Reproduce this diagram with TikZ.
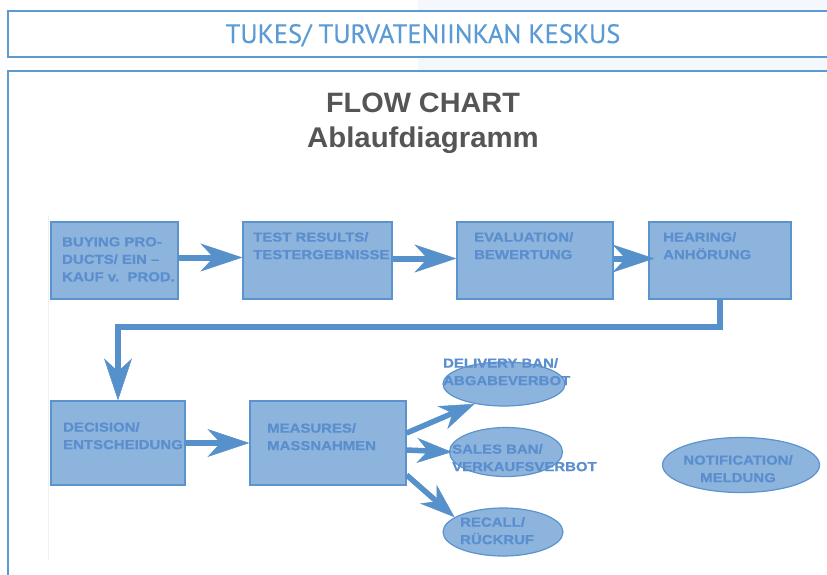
\documentclass[tikz,border=0pt]{standalone}
\usepackage{fontspec}
\setmainfont{Liberation Sans}
\newfontfamily\boxfont[FakeStretch=1.15,FakeBold=0.6]{Liberation Sans}
\newfontfamily\headfont[FakeBold=0.3]{PT Sans}
\newfontfamily\titlefont[FakeStretch=1.03]{Liberation Sans}
\usetikzlibrary{arrows.meta,shapes.geometric}
\definecolor{frameblue}{HTML}{5B9BD5}
\definecolor{tintbg}{HTML}{F4F7FB}
\definecolor{faintline}{HTML}{ECF1F7}
\definecolor{titlegray}{HTML}{555555}
\definecolor{boxfill}{HTML}{8DB4DC}
\definecolor{boxline}{HTML}{5B93CC}
\definecolor{boxtxt}{HTML}{5A8ECE}
\definecolor{arrblue}{HTML}{5691CB}
\tikzset{
  frame/.style={draw=frameblue,line width=1.5pt,fill=white},
  stepbox/.style={rectangle,draw=boxline,fill=boxfill,line width=1.2pt,inner sep=0pt},
  oval/.style={ellipse,draw=boxline,fill=boxfill,line width=1.2pt,inner sep=0pt},
  boxtext/.style={font=\boxfont\bfseries\fontsize{13}{17.5}\selectfont,text=boxtxt,align=left,inner sep=0pt,anchor=north west},
  ovaltext/.style={boxtext},
  bigarr/.style={draw=arrblue,line width=6pt,-{Stealth[length=42pt,width=28pt,inset=13pt,line width=0.5pt]}},
  midarr/.style={draw=arrblue,line width=5.5pt,-{Stealth[length=35pt,width=25pt,inset=11pt,line width=0.5pt]}},
}
\begin{document}
\begin{tikzpicture}[x=1pt,y=-1pt]
\clip (0,0) rectangle (827,574);
\fill[white] (0,0) rectangle (827,574);
\fill[tintbg] (418,0) rectangle (827,71);
% frames
\draw[frame] (8,11) rectangle (840,57);
\draw[frame] (8,71) rectangle (840,600);
\draw[faintline,line width=1pt] (48,215) -- (48,560);
% headings
\node[font=\headfont\fontsize{26.5}{30}\selectfont,text=frameblue,anchor=base] (head) at (423,43) {TUKES/ TURVATENIINKAN KESKUS};
\node[font=\titlefont\bfseries\fontsize{28}{30}\selectfont,text=titlegray,anchor=base] (title) at (423,112) {FLOW CHART};
\node[font=\titlefont\bfseries\fontsize{28.5}{30}\selectfont,text=titlegray,anchor=base] (subtitle) at (423,147) {Ablaufdiagramm};
% boxes
\node[stepbox,minimum width=127pt,minimum height=77pt] (b1) at (114.5,260.5) {};
\node[stepbox,minimum width=149pt,minimum height=77pt] (b2) at (317.5,260.5) {};
\node[stepbox,minimum width=156pt,minimum height=77pt] (b3) at (535,260.5) {};
\node[stepbox,minimum width=142pt,minimum height=77pt] (b4) at (720,260.5) {};
\node[stepbox,minimum width=134pt,minimum height=84pt] (b5) at (118,443) {};
\node[stepbox,minimum width=156pt,minimum height=84pt] (b6) at (328,443) {};
% ellipses
\node[oval,minimum width=122pt,minimum height=44pt] (e1) at (504,384) {};
\node[oval,minimum width=113pt,minimum height=49pt] (e2) at (506,452) {};
\node[oval,minimum width=120pt,minimum height=48pt] (e3) at (503,532) {};
\node[oval,minimum width=157pt,minimum height=55pt] (e4) at (741,465) {};
% connectors
\draw[bigarr] ([yshift=3pt]b1.east) -- ([yshift=3pt]b2.west);
\draw[bigarr] ([yshift=2pt]b2.east) -- ([yshift=2pt]b3.west);
\draw[bigarr] ([yshift=2pt]b3.east) -- ([yshift=2pt,xshift=6pt]b4.west);
\coordinate (turn) at (118,327);
\draw[bigarr,line join=miter] (b4.south) |- (turn) -- (b5.north);
\draw[bigarr] (b5.east) -- (b6.west);
\draw[midarr] ([yshift=10pt]b6.east) -- (e1.214);
\draw[midarr] ([yshift=-7pt]b6.east) -- ([xshift=3pt]e2.west);
\draw[midarr] ([yshift=-32pt]b6.east) -- (e3.163);
% texts
\node[boxtext] (t1) at (62,237) {BUYING PRO-\\DUCTS/ EIN –\\KAUF v.\ \ PROD.};
\node[boxtext] (t2) at (253,232) {TEST RESULTS/\\TESTERGEBNISSE};
\node[boxtext] (t3) at (474,232) {EVALUATION/\\BEWERTUNG};
\node[boxtext] (t4) at (663,232) {HEARING/\\ANHÖRUNG};
\node[boxtext] (t5) at (63,422) {DECISION/\\ENTSCHEIDUNG};
\node[boxtext] (t6) at (267,423) {MEASURES/\\MASSNAHMEN};
\node[ovaltext] (t7) at (443,358) {DELIVERY BAN/\\ABGABEVERBOT};
\node[ovaltext] (t8) at (452,444) {SALES BAN/\\VERKAUFSVERBOT};
\node[ovaltext] (t9) at (460,517) {RECALL/\\RÜCKRUF};
\node[ovaltext,align=center,anchor=north] (t10) at (738,455) {NOTIFICATION/\\MELDUNG};
\end{tikzpicture}
\end{document}
